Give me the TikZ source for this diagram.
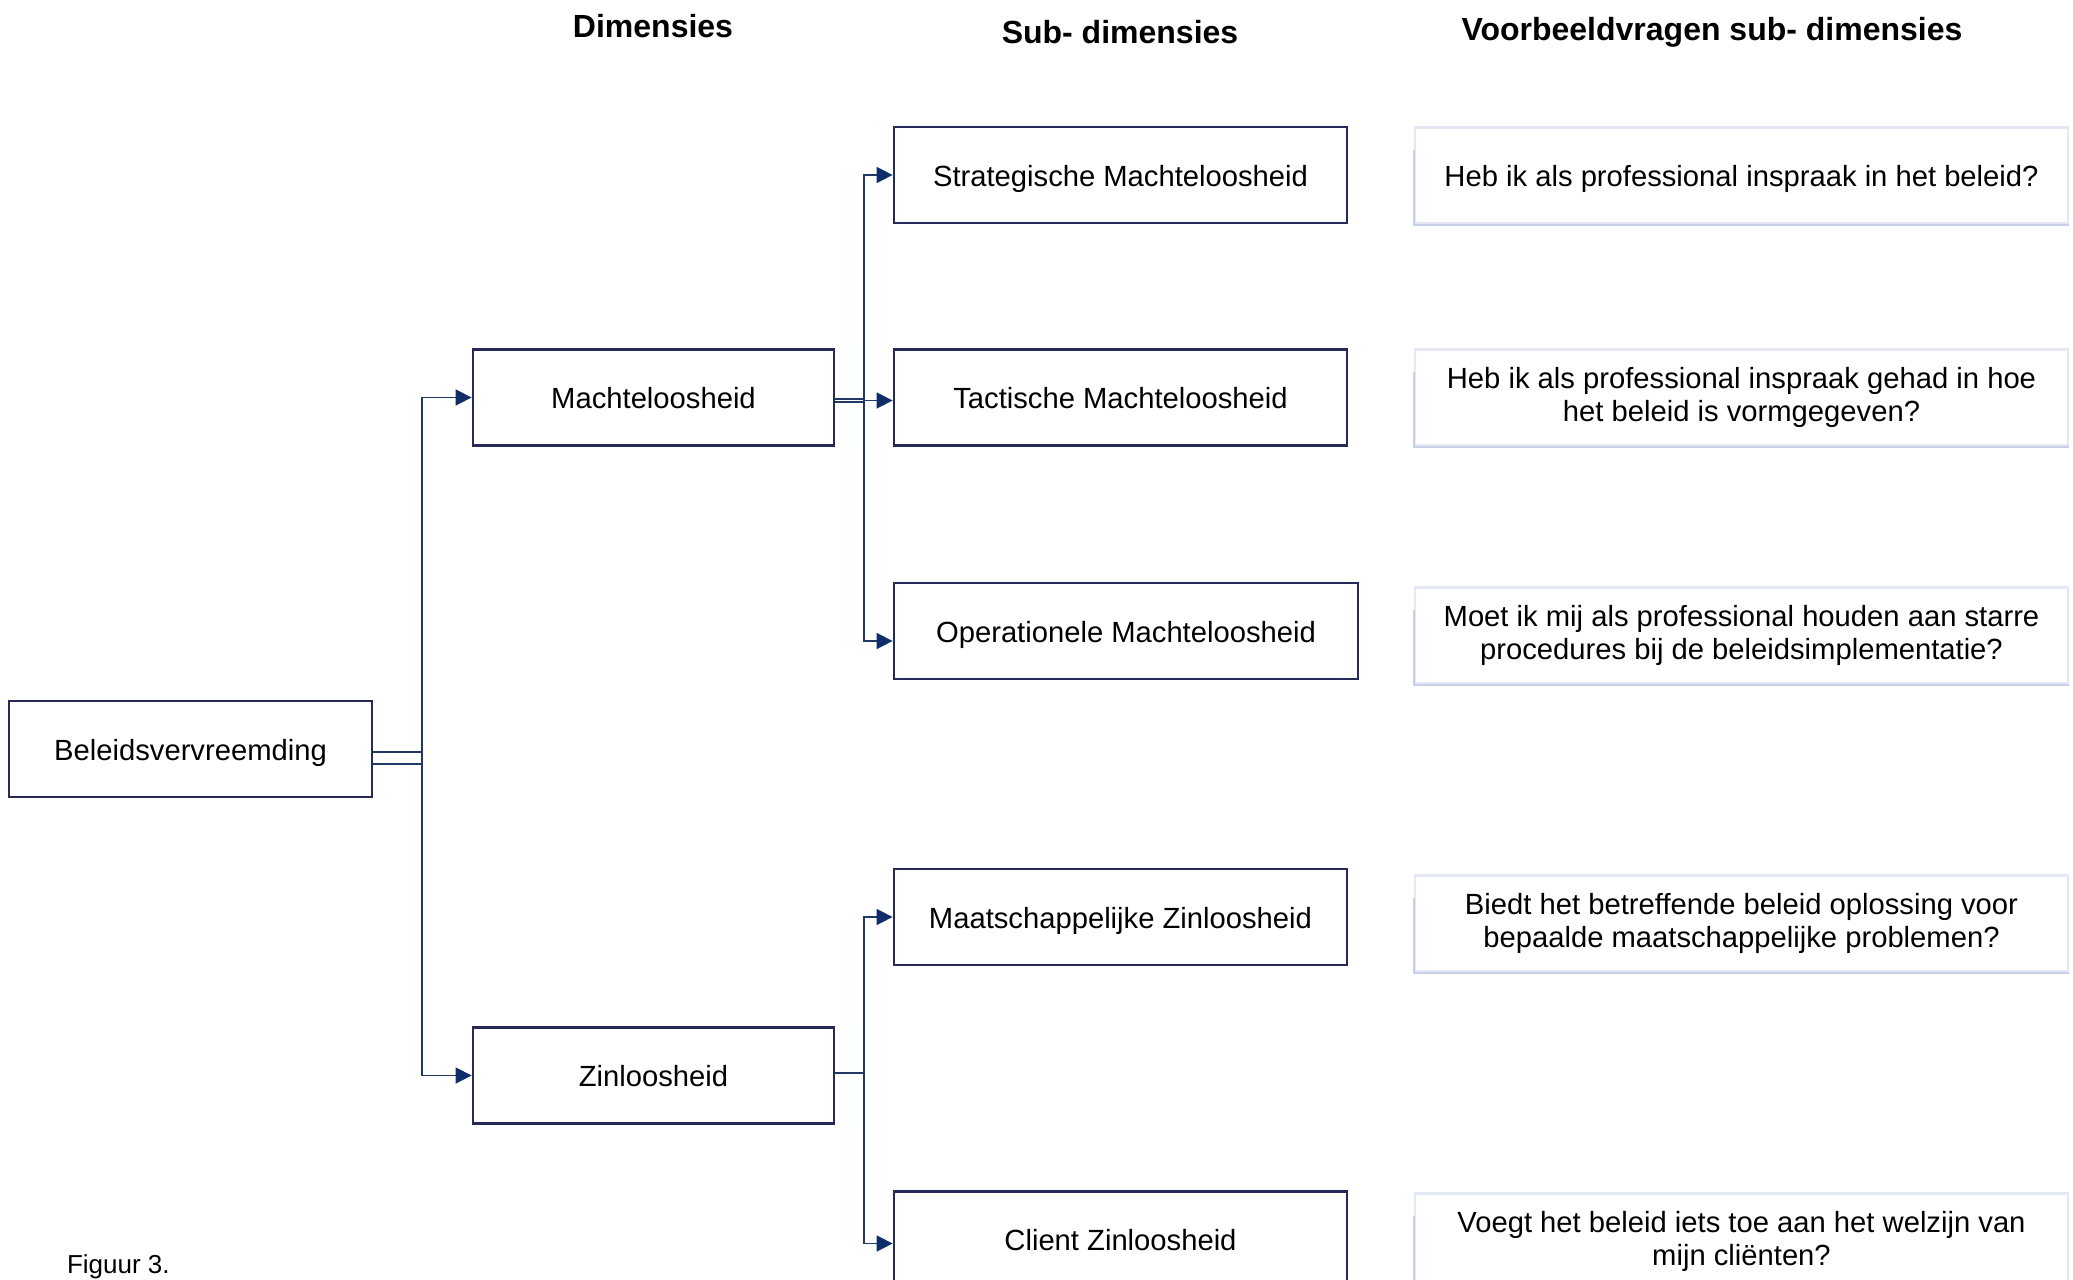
\documentclass[tikz,border=0pt]{standalone}
\usepackage{fontspec}
\setmainfont{Liberation Sans}
\usetikzlibrary{arrows.meta}
\definecolor{boxnavy}{RGB}{38,42,88}
\definecolor{linenavy}{RGB}{31,56,100}
\definecolor{tipnavy}{RGB}{14,45,105}
\definecolor{vraaggrens}{RGB}{228,232,244}
\definecolor{vraagschaduw}{RGB}{200,207,232}
\tikzset{
  tekst/.style={font=\fontsize{14.6}{16.6}\selectfont},
  eenregel/.style={text height=13pt, text depth=2pt},
  dimbox/.style={tekst, eenregel, draw=boxnavy, line width=1.4pt, fill=white, minimum height=48pt, inner sep=0pt},
  vraagbox/.style={tekst, draw=vraaggrens, line width=1.2pt, fill=white, minimum width=326.5pt, minimum height=48pt, inner sep=0pt, align=center},
  schaduw/.style={draw=vraagschaduw, line width=1.2pt},
  kop/.style={font=\fontsize{16}{18}\selectfont\bfseries},
  lijn/.style={draw=linenavy, line width=0.8pt},
  pijl/.style={lijn, -{Triangle[length=8pt,width=8pt,color=tipnavy,fill=tipnavy]}},
  dubbel/.style={draw=linenavy, double, line width=0.7pt, double distance=5.3pt},
  dubbelsmal/.style={draw=linenavy, double, line width=0.6pt, double distance=0.9pt}
}
\begin{document}
\begin{tikzpicture}[x=0.5pt, y=-0.5pt]
\useasboundingbox (0,0) rectangle (2073,1280);
\clip (0,0) rectangle (2073,1280);

\node[kop] (kdim) at (653,26) {Dimensies};
\node[kop] (ksub) at (1120,32) {Sub- dimensies};
\node[kop] (kvr) at (1712,32) {Voorbeeldvragen sub- dimensies};

\node[dimbox, minimum width=181.5pt] (bel) at (190.5,749) {Beleidsvervreemding};
\node[dimbox, minimum width=180.5pt] (macht) at (653.5,397.5) {Machteloosheid};
\node[dimbox, minimum width=180.5pt] (zin) at (653.5,1075.5) {Zinloosheid};

\node[dimbox, minimum width=226.5pt] (strat) at (1120.5,175) {Strategische Machteloosheid};
\node[dimbox, minimum width=226.5pt] (tact) at (1120.5,397.5) {Tactische Machteloosheid};
\node[dimbox, minimum width=232pt] (oper) at (1126,631) {Operationele Machteloosheid};
\node[dimbox, minimum width=226.5pt] (maat) at (1120.5,917) {Maatschappelijke Zinloosheid};
\node[dimbox, minimum width=226.5pt] (client) at (1120.5,1239.5) {Client Zinloosheid};

\node[vraagbox, eenregel] (v1) at (1741.5,175.5) {Heb ik als professional inspraak in het beleid?};
\node[vraagbox] (v2) at (1741.5,397.5) {Heb ik als professional inspraak gehad in hoe\\het beleid is vormgegeven?};
\node[vraagbox] (v3) at (1741.5,635.5) {Moet ik mij als professional houden aan starre\\procedures bij de beleidsimplementatie?};
\node[vraagbox] (v4) at (1741.5,923.5) {Biedt het betreffende beleid oplossing voor\\bepaalde maatschappelijke problemen?};
\node[vraagbox] (v5) at (1741.5,1241.5) {Voegt het beleid iets toe aan het welzijn van\\mijn cliënten?};
\foreach \v in {v1,v2,v3,v4,v5}
    \draw[schaduw] ([yshift=-12pt]\v.north west) -- (\v.south west) -- (\v.south east);

\coordinate (s1) at (422,758);
\coordinate (s2) at (864,400.5);
\coordinate (s3) at (864,1073);

\draw[dubbel] (bel.east |- s1) -- (s1);
\draw[pijl] (s1) |- (macht.west);
\draw[pijl] (s1) |- (zin.west);

\draw[dubbelsmal] (macht.east |- s2) -- (s2);
\draw[pijl] (s2) |- (strat.west);
\draw[pijl] (s2) -- (tact.west |- s2);
\draw[pijl] (s2) |- ([yshift=-5pt]oper.west);

\draw[lijn] (zin.east |- s3) -- (s3);
\draw[pijl] (s3) |- (maat.west);
\draw[pijl] (s3) |- ([yshift=-2pt]client.west);

\node[anchor=west, font=\fontsize{13}{15}\selectfont] (fig) at (60,1267) {Figuur 3.};
\end{tikzpicture}
\end{document}
